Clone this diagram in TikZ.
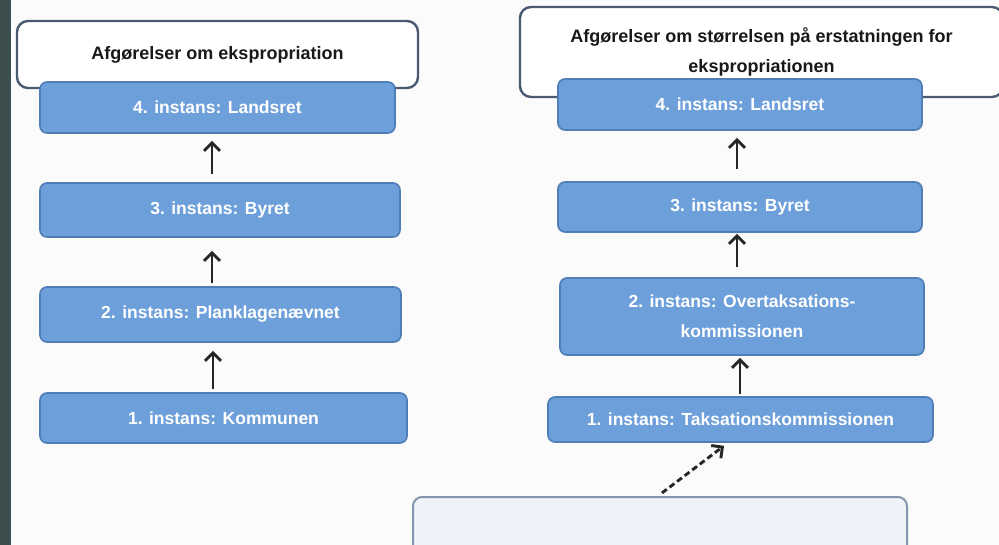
\documentclass[tikz,border=0pt]{standalone}
\usepackage{fontspec}
\setmainfont{Liberation Sans}
\usetikzlibrary{arrows.meta}
\definecolor{boxblue}{HTML}{6D9FDA}
\definecolor{boxline}{HTML}{4F7DB5}
\definecolor{headline}{HTML}{4A5A70}
\definecolor{paleline}{HTML}{8396AE}
\definecolor{palefill}{HTML}{EEF3F9}
\definecolor{stripe}{HTML}{3C4F4E}
\definecolor{paper}{HTML}{FBFBFB}
\begin{document}
\begin{tikzpicture}[x=1pt,y=-1pt,>={Straight Barb[length=8pt,width=16pt]},
  instans/.style={draw=boxline,fill=boxblue,line width=1.6pt,rounded corners=7pt,
    text=white,align=center,inner sep=0pt,font=\bfseries\fontsize{17.5}{30}\selectfont},
  header/.style={draw=headline,fill=white,line width=2.4pt,rounded corners=11pt,
    text=black!90,align=center,inner sep=0pt,font=\bfseries\fontsize{18}{30}\selectfont},
  note/.style={draw=paleline,fill=palefill,line width=2pt,rounded corners=9pt},
  arr/.style={->,line width=2.9pt,draw=black!85},
  dasharr/.style={arr,dash pattern=on 6pt off 3.5pt}]
  \useasboundingbox (0,0) rectangle (999,545);
  \clip (0,0) rectangle (999,545);
  \fill[paper] (0,0) rectangle (999,545);
  \fill[stripe] (0,0) rectangle (11,545);

  \node[header,minimum width=401pt,minimum height=67pt] (hdrL) at (217.5,54.5)
    {Afgørelser om ekspropriation};
  \node[header,minimum width=483pt,minimum height=90pt] (hdrR) at (761.5,52)
    {Afgørelser om størrelsen på erstatningen for\\ekspropriationen};

  \node[instans,minimum width=355pt,minimum height=51pt] (L4) at (217.5,107.5) {4. instans: Landsret};
  \node[instans,minimum width=360pt,minimum height=54pt] (L3) at (220,210) {3. instans: Byret};
  \node[instans,minimum width=361pt,minimum height=55pt] (L2) at (220.5,314.5) {2. instans: Planklagenævnet};
  \node[instans,minimum width=367pt,minimum height=50pt] (L1) at (223.5,418) {1. instans: Kommunen};

  \node[instans,minimum width=364pt,minimum height=51pt] (R4) at (740,104.5) {4. instans: Landsret};
  \node[instans,minimum width=364pt,minimum height=50pt] (R3) at (740,207) {3. instans: Byret};
  \node[instans,minimum width=364pt,minimum height=77pt] (R2) at (742,316.5)
    {2. instans: Overtaksations-\\kommissionen};
  \node[instans,minimum width=385pt,minimum height=45pt] (R1) at (740.5,419.5) {1. instans: Taksationskommissionen};
  \node[note,minimum width=494pt,minimum height=63pt] (B) at (660,528.5) {};

  \draw[arr,shorten <=8pt,shorten >=7pt] ([xshift=-8pt]L3.north) -- ([xshift=-5.5pt]L4.south);
  \draw[arr,shorten <=3pt,shorten >=13pt] ([xshift=-8.5pt]L2.north) -- ([xshift=-8pt]L3.south);
  \draw[arr,shorten <=3pt,shorten >=8pt] ([xshift=-10.5pt]L1.north) -- ([xshift=-7.5pt]L2.south);

  \draw[arr,shorten <=12pt,shorten >=7pt] ([xshift=-3pt]R3.north) -- ([xshift=-3pt]R4.south);
  \draw[arr,shorten <=10pt,shorten >=1pt] ([xshift=-5pt]R2.north) -- ([xshift=-3pt]R3.south);
  \draw[arr,shorten <=2pt,shorten >=2pt] ([xshift=-0.5pt]R1.north) -- ([xshift=-2pt]R2.south);
  \draw[dasharr,shorten <=5pt,shorten >=5pt] ([xshift=-2pt]B.north) -- ([xshift=-12.5pt]R1.south);
\end{tikzpicture}
\end{document}
